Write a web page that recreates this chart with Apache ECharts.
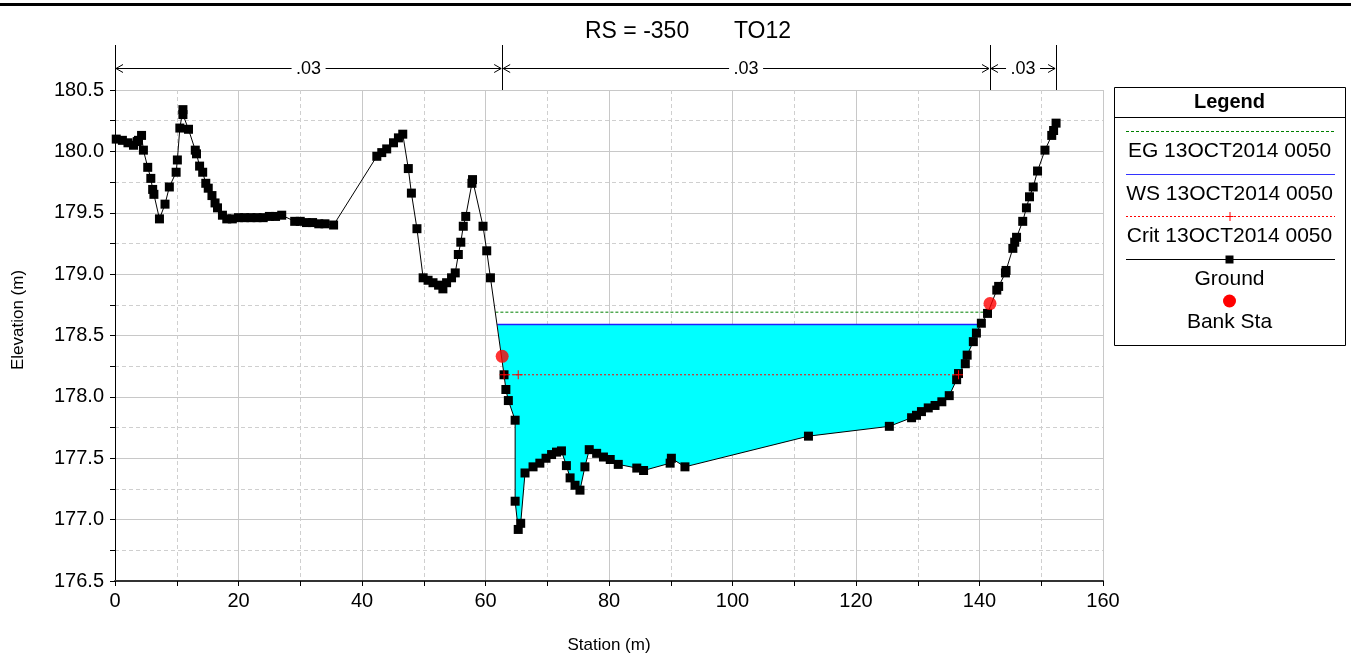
<!DOCTYPE html>
<html><head><meta charset="utf-8">
<script src="https://cdn.jsdelivr.net/npm/echarts@6/dist/echarts.min.js"></script>
<style>html,body{margin:0;padding:0;background:#fff;}#c{width:1351px;height:653px;}</style>
</head><body><div id="c"></div>
<script>
// ---------- data ----------
const groundX = [0.2,1.2,2.1,3.0,3.6,3.8,4.3,4.6,5.3,5.8,6.1,6.3,7.2,8.1,8.8,9.9,10.1,10.5,11.0,11.0,11.9,13.0,13.2,13.7,14.2,14.7,15.1,15.7,16.2,16.6,17.4,18.1,19.0,20.0,21.0,22.0,23.0,24.0,25.0,26.0,27.0,29.1,30.0,31.0,32.0,33.0,34.0,35.4,42.4,43.2,44.0,45.1,45.9,46.6,47.5,48.0,48.9,49.9,50.7,51.5,52.4,53.1,53.7,54.5,55.1,55.6,56.0,56.4,56.8,57.8,57.9,59.6,60.2,60.8,63.0,63.3,63.7,64.8,64.8,65.3,65.7,66.4,67.7,68.8,69.8,70.7,71.5,72.3,73.1,73.7,74.5,75.3,76.1,76.8,78.0,79.1,80.2,81.5,84.5,85.6,89.9,90.1,92.3,112.3,125.4,129.0,129.8,130.6,131.7,132.8,133.9,135.1,136.3,136.6,137.7,138.0,139.0,139.5,140.3,141.3,142.8,143.1,144.2,144.3,145.4,145.7,146.0,147.0,147.6,148.1,148.7,149.4,150.6,151.7,152.0,152.4];
const groundY = [180.10,180.09,180.07,180.05,180.08,180.09,180.13,180.01,179.87,179.78,179.69,179.65,179.45,179.57,179.71,179.83,179.93,180.19,180.34,180.30,180.18,180.01,179.98,179.88,179.83,179.74,179.70,179.64,179.58,179.54,179.48,179.45,179.45,179.46,179.46,179.46,179.46,179.46,179.47,179.47,179.48,179.43,179.43,179.42,179.42,179.41,179.41,179.40,179.96,179.99,180.02,180.07,180.11,180.14,179.86,179.66,179.37,178.97,178.95,178.93,178.91,178.88,178.93,178.97,179.01,179.16,179.26,179.39,179.47,179.74,179.77,179.39,179.19,178.97,178.18,178.06,177.97,177.81,177.15,176.92,176.97,177.38,177.43,177.46,177.50,177.53,177.55,177.56,177.44,177.34,177.28,177.24,177.43,177.57,177.54,177.51,177.49,177.45,177.42,177.40,177.46,177.50,177.43,177.68,177.76,177.83,177.85,177.88,177.91,177.93,177.96,178.01,178.14,178.19,178.27,178.34,178.45,178.52,178.60,178.68,178.87,178.90,179.01,179.03,179.21,179.26,179.30,179.43,179.54,179.63,179.71,179.84,180.01,180.13,180.17,180.23];
const bankX = [62.7, 141.7];
const bankY = [178.33, 178.76];
const wsX = [61.9, 140.2];
const wsElev = 178.59;
const egX = [61.6, 141.4];
const egElev = 178.69;
const critX = [63.0, 65.3, 136.6];
const critElev = 178.18;
const nStations = [0, 62.7, 141.7, 152.4];
const nValues = ['.03', '.03', '.03'];
const legendNames = ['EG 13OCT2014 0050', 'WS 13OCT2014 0050', 'Crit 13OCT2014 0050', 'Ground', 'Bank Sta'];
const titleText = 'RS = -350       TO12';
const xName = 'Station (m)';
const yName = 'Elevation (m)';

// ---------- derived ----------
const FONT = 'Liberation Sans, Arial, sans-serif';
const ground = groundX.map((x, i) => [x, groundY[i]]);
const banks = bankX.map((x, i) => [x, bankY[i]]);
const ws = wsX.map(x => [x, wsElev]);
const eg = egX.map(x => [x, egElev]);
const crit = critX.map(x => [x, critElev]);
const waterPoly = [[wsX[0], wsElev], [wsX[1], wsElev]].concat(
  ground.filter(p => p[0] > wsX[0] && p[0] < wsX[1]).reverse());

const chart = echarts.init(document.getElementById('c'), null, {renderer: 'canvas'});

const gridL = 115, gridR = 248, gridT = 90, gridB = 72;

// Legend box (layout element)
const LX = 1114, LY = 87, LW = 231, LH = 258, LC = LX + LW / 2;
const TF = '21px ' + FONT;
const legendGraphics = [
  {type: 'rect', shape: {x: LX + 0.5, y: LY + 0.5, width: LW, height: LH}, style: {fill: '#fff', stroke: '#000', lineWidth: 1}},
  {type: 'line', shape: {x1: LX, y1: 117.5, x2: LX + LW, y2: 117.5}, style: {stroke: '#000', lineWidth: 1}},
  {type: 'text', style: {text: 'Legend', x: LC, y: 102, align: 'center', verticalAlign: 'middle', font: 'bold 20px ' + FONT, fill: '#000'}},
  {type: 'line', shape: {x1: 1126, y1: 131.5, x2: 1335, y2: 131.5}, style: {stroke: '#008000', lineWidth: 1, lineDash: [3, 2]}},
  {type: 'text', style: {text: legendNames[0], x: LC, y: 151, align: 'center', verticalAlign: 'middle', font: TF, fill: '#000'}},
  {type: 'line', shape: {x1: 1126, y1: 174.5, x2: 1335, y2: 174.5}, style: {stroke: '#3333ff', lineWidth: 1.2}},
  {type: 'text', style: {text: legendNames[1], x: LC, y: 194, align: 'center', verticalAlign: 'middle', font: TF, fill: '#000'}},
  {type: 'line', shape: {x1: 1126, y1: 216.5, x2: 1335, y2: 216.5}, style: {stroke: '#ff0000', lineWidth: 1, lineDash: [2, 2]}},
  {type: 'line', shape: {x1: LC - 4, y1: 216.5, x2: LC + 4, y2: 216.5}, style: {stroke: '#ff0000', lineWidth: 1}},
  {type: 'line', shape: {x1: LC + 0.5, y1: 212, x2: LC + 0.5, y2: 221}, style: {stroke: '#ff0000', lineWidth: 1}},
  {type: 'text', style: {text: legendNames[2], x: LC, y: 236, align: 'center', verticalAlign: 'middle', font: TF, fill: '#000'}},
  {type: 'line', shape: {x1: 1126, y1: 259.5, x2: 1335, y2: 259.5}, style: {stroke: '#000', lineWidth: 1}},
  {type: 'rect', shape: {x: LC - 4, y: 255.5, width: 8, height: 8}, style: {fill: '#000'}},
  {type: 'text', style: {text: legendNames[3], x: LC, y: 279, align: 'center', verticalAlign: 'middle', font: TF, fill: '#000'}},
  {type: 'circle', shape: {cx: LC, cy: 301, r: 6.5}, style: {fill: '#ff0000'}},
  {type: 'text', style: {text: legendNames[4], x: LC, y: 322, align: 'center', verticalAlign: 'middle', font: TF, fill: '#000'}}
];

const option = {
  backgroundColor: '#fff',
  animation: false,
  title: {
    text: titleText, left: 683, top: 15, textAlign: 'center',
    textStyle: {fontFamily: FONT, fontSize: 23, fontWeight: 'normal', color: '#000'}
  },
  grid: {left: gridL, right: gridR, top: gridT, bottom: gridB, containLabel: false, outerBoundsMode: 'none'},
  xAxis: {
    type: 'value', min: 0, max: 160, interval: 20,
    name: xName, nameLocation: 'middle', nameGap: 56,
    nameTextStyle: {fontFamily: FONT, fontSize: 17, color: '#000'},
    axisLine: {show: true, onZero: false, lineStyle: {color: '#333', width: 2}},
    axisTick: {show: true, length: 5, lineStyle: {color: '#000'}},
    minorTick: {show: true, splitNumber: 2, length: 5, lineStyle: {color: '#000'}},
    axisLabel: {fontFamily: FONT, fontSize: 20, color: '#000', margin: 10},
    splitLine: {show: true, lineStyle: {color: '#c8c8c8', width: 1}},
    minorSplitLine: {show: true, lineStyle: {color: '#cfcfcf', width: 1, type: [4, 3]}}
  },
  yAxis: {
    type: 'value', min: 176.5, max: 180.5, interval: 0.5,
    axisLine: {show: true, onZero: false, lineStyle: {color: '#000', width: 1}},
    axisTick: {show: true, length: 5, lineStyle: {color: '#000'}},
    minorTick: {show: true, splitNumber: 2, length: 5, lineStyle: {color: '#000'}},
    axisLabel: {fontFamily: FONT, fontSize: 20, color: '#000', margin: 11, formatter: v => v.toFixed(1)},
    splitLine: {show: true, lineStyle: {color: '#c8c8c8', width: 1}},
    minorSplitLine: {show: true, lineStyle: {color: '#cfcfcf', width: 1, type: [4, 3]}}
  },
  graphic: [
    {type: 'rect', shape: {x: 0, y: 3, width: 1351, height: 3}, style: {fill: '#000'}},
    {type: 'text', x: 18, y: 320, rotation: Math.PI / 2,
      style: {text: yName, align: 'center', verticalAlign: 'middle', font: '17px ' + FONT, fill: '#000'}},
    {type: 'group', children: legendGraphics}
  ],
  series: [
    {
      name: 'water', type: 'custom', coordinateSystem: 'cartesian2d', silent: true, z: 1,
      data: [[wsX[0], wsElev]],
      renderItem: (params, api) => ({
        type: 'polygon',
        shape: {points: waterPoly.map(p => api.coord(p))},
        style: {fill: '#00ffff', stroke: null}
      })
    },
    {
      name: 'manning', type: 'custom', coordinateSystem: 'cartesian2d', silent: true, clip: false, z: 5,
      data: [[0, 180.5]],
      renderItem: (params, api) => {
        const top = api.coord([0, 180.5])[1];
        const yTop = top - 45, yA = top - 22;
        const xs = nStations.map(s => api.coord([s, 180.5])[0]);
        const ch = [];
        const st = {stroke: '#000', lineWidth: 1, fill: null};
        xs.forEach(x => ch.push({type: 'line', shape: {x1: Math.round(x) + 0.5, y1: yTop, x2: Math.round(x) + 0.5, y2: top}, style: st}));
        for (let i = 0; i < nValues.length; i++) {
          const a = xs[i] + 1, b = xs[i + 1] - 1, mid = (xs[i] + xs[i + 1]) / 2;
          const gap = 17;
          const y = Math.round(yA) + 0.5;
          ch.push({type: 'line', shape: {x1: a, y1: y, x2: mid - gap, y2: y}, style: st});
          ch.push({type: 'line', shape: {x1: mid + gap, y1: y, x2: b, y2: y}, style: st});
          ch.push({type: 'polyline', shape: {points: [[a + 7, y - 4], [a, y], [a + 7, y + 4]]}, style: st});
          ch.push({type: 'polyline', shape: {points: [[b - 7, y - 4], [b, y], [b - 7, y + 4]]}, style: st});
          ch.push({type: 'text', style: {text: nValues[i], x: mid, y: y + 1, align: 'center', verticalAlign: 'middle', font: '18px ' + FONT, fill: '#000'}});
        }
        return {type: 'group', children: ch};
      }
    },
    {
      name: 'EG', type: 'line', data: eg, showSymbol: false, z: 3,
      lineStyle: {color: '#008000', width: 1, type: [3, 2]}
    },
    {
      name: 'WS', type: 'line', data: ws, showSymbol: false, z: 3,
      lineStyle: {color: '#2020ff', width: 1.5}
    },
    {
      name: 'Ground', type: 'line', data: ground, z: 4,
      symbol: 'rect', symbolSize: 9, showAllSymbol: true,
      itemStyle: {color: '#000'},
      lineStyle: {color: '#000', width: 1}
    },
    {
      name: 'Crit', type: 'line', data: crit, z: 6,
      symbol: 'path://M5,0L5,10M0,5L10,5', symbolSize: 9, showAllSymbol: true,
      itemStyle: {color: 'rgba(0,0,0,0)', borderColor: '#ff0000', borderWidth: 1},
      lineStyle: {color: '#ff0000', width: 1, type: [2, 2]}
    },
    {
      name: 'Bank Sta', type: 'scatter', data: banks, z: 7,
      symbol: 'circle', symbolSize: 13,
      itemStyle: {color: '#ff0000'}
    }
  ]
};
chart.setOption(option);
</script>
</body></html>
